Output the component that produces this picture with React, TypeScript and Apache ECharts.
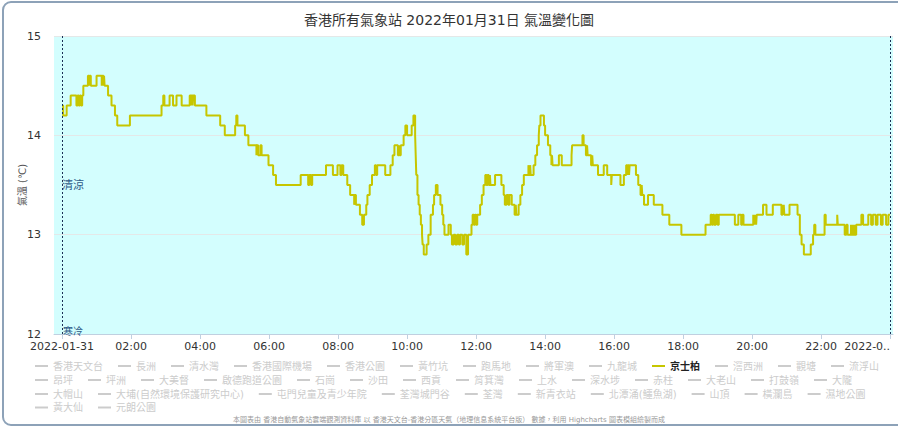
import React, { useEffect, useRef } from "react";
import * as echarts from "echarts";

const chartTitle = "香港所有氣象站 2022年01月31日 氣溫變化圖";
const yAxisTitle = "氣溫 (℃)";
const activeStation = "京士柏";

const legendRow1 = ["香港天文台", "長洲", "清水灣", "香港國際機場", "香港公園", "黃竹坑", "跑馬地", "將軍澳", "九龍城", "京士柏", "滘西洲", "觀塘", "流浮山"];
const legendRow2 = ["昂坪", "坪洲", "大美督", "啟德跑道公園", "石崗", "沙田", "西貢", "筲箕灣", "上水", "深水埗", "赤柱", "大老山", "打鼓嶺", "大隴"];
const legendRow3 = ["大帽山", "大埔(自然環境保護研究中心)", "屯門兒童及青少年院", "荃灣城門谷", "荃灣", "新青衣站", "北潭涌(鱷魚湖)", "山頂", "橫瀾島", "濕地公園"];
const legendRow4 = ["黃大仙", "元朗公園"];

const tickMinutes = [0, 120, 240, 360, 480, 600, 720, 840, 960, 1080, 1200, 1320, 1440];
const tickLabels = ["2022-01-31", "02:00", "04:00", "06:00", "08:00", "10:00", "12:00", "14:00", "16:00", "18:00", "20:00", "22:00", "2022-0.."];

// 京士柏: minute of day at which the reading changes, and the new reading (°C)
const kpMinutes = [
  0, 2, 8, 15, 25, 27, 29, 31, 33, 35, 37, 45, 47, 48, 50, 60, 69, 70, 72, 73, 74, 80, 86, 92, 96, 118,
  173, 176, 178, 187, 193, 199, 208, 222, 224, 225, 227, 228, 231, 251, 275, 283, 301, 303, 305, 318, 324,
  338, 339, 341, 345, 347, 359, 367, 372, 415, 428, 430, 433, 435, 459, 471, 479, 484, 486, 489, 496, 501,
  508, 509, 511, 518, 522, 525, 529, 531, 535, 539, 544, 546, 548, 562, 571, 575, 578, 584, 586, 587, 589,
  594, 597, 600, 608, 611, 614, 615, 616, 618, 620, 622, 624, 626, 627, 629, 634, 637, 641, 645, 647, 650,
  653, 658, 661, 663, 665, 672, 676, 678, 681, 684, 687, 690, 692, 696, 699, 703, 706, 712, 714, 716, 718,
  720, 722, 727, 730, 733, 736, 738, 740, 742, 744, 745, 753, 764, 768, 770, 773, 776, 778, 782, 787, 789,
  790, 794, 797, 800, 803, 811, 812, 814, 815, 820, 823, 826, 829, 830, 832, 838, 840, 845, 849, 851, 852,
  853, 864, 869, 886, 887, 905, 907, 911, 913, 914, 920, 922, 923, 932, 942, 948, 955, 956, 971, 977, 981,
  983, 984, 986, 987, 998, 1002, 1006, 1008, 1009, 1012, 1019, 1029, 1044, 1056, 1077, 1119, 1128, 1130,
  1132, 1134, 1137, 1140, 1142, 1170, 1176, 1181, 1183, 1185, 1202, 1203, 1204, 1205, 1206, 1207, 1208,
  1219, 1225, 1236, 1251, 1253, 1254, 1255, 1256, 1265, 1279, 1283, 1286, 1290, 1302, 1306, 1308, 1310,
  1326, 1328, 1348, 1349, 1361, 1364, 1366, 1372, 1373, 1375, 1376, 1378, 1379, 1381, 1390, 1393, 1402,
  1407, 1410, 1415, 1418, 1424, 1427, 1433, 1437, 1440,
];
const kpTemps = [
  14.3, 14.2, 14.3, 14.4, 14.3, 14.4, 14.3, 14.4, 14.3, 14.4, 14.5, 14.6, 14.5, 14.6, 14.5, 14.6, 14.5, 14.6, 14.5, 14.6, 14.5, 14.4, 14.3, 14.2, 14.1, 14.2,
  14.3, 14.4, 14.3, 14.4, 14.3, 14.4, 14.3, 14.4, 14.3, 14.4, 14.3, 14.4, 14.3, 14.2, 14.1, 14.0, 14.1, 14.2, 14.1, 14.0, 13.9,
  13.8, 13.9, 13.8, 13.9, 13.8, 13.7, 13.6, 13.5, 13.6, 13.5, 13.6, 13.5, 13.6, 13.7, 13.6, 13.7, 13.6, 13.7, 13.6, 13.5, 13.4,
  13.3, 13.4, 13.3, 13.2, 13.1, 13.2, 13.3, 13.4, 13.5, 13.6, 13.7, 13.6, 13.7, 13.6, 13.7, 13.8, 13.9, 13.8, 13.9, 13.8, 13.9,
  14.0, 14.1, 14.0, 14.1, 14.2, 14.0, 13.8, 13.6, 13.4, 13.3, 13.2, 13.1, 13.0, 12.9, 12.8, 12.9, 13.0, 13.2, 13.3, 13.4, 13.5,
  13.4, 13.3, 13.2, 13.1, 13.0, 13.1, 13.0, 12.9, 13.0, 12.9, 13.0, 12.9, 13.0, 12.9, 13.0, 12.8, 13.0, 13.1, 13.2, 13.1, 13.2,
  13.1, 13.2, 13.3, 13.4, 13.5, 13.6, 13.5, 13.6, 13.5, 13.6, 13.5, 13.6, 13.5, 13.4, 13.3, 13.4, 13.3, 13.4, 13.3, 13.2, 13.3,
  13.2, 13.3, 13.4, 13.5, 13.6, 13.7, 13.6, 13.7, 13.6, 13.7, 13.8, 13.9, 14.0, 14.1, 14.2, 14.1, 14.0, 13.9, 13.8, 13.7, 13.8,
  13.7, 13.8, 13.7, 13.8, 13.9, 14.0, 13.9, 13.8, 13.9, 13.8, 13.7, 13.8, 13.7, 13.6, 13.7, 13.6, 13.5, 13.6, 13.5, 13.6, 13.7,
  13.6, 13.7, 13.6, 13.7, 13.6, 13.5, 13.4, 13.5, 13.4, 13.3, 13.4, 13.3, 13.2, 13.1, 13.0, 13.1, 13.2, 13.1,
  13.2, 13.1, 13.2, 13.1, 13.2, 13.1, 13.2, 13.1, 13.2, 13.1, 13.2, 13.1, 13.2, 13.1, 13.2, 13.1, 13.2,
  13.3, 13.2, 13.3, 13.2, 13.3, 13.2, 13.3, 13.2, 13.3, 13.2, 13.0, 12.9, 12.8, 12.9, 13.0, 13.1, 13.0,
  13.2, 13.1, 13.2, 13.1, 13.0, 13.1, 13.0, 13.1, 13.0, 13.1, 13.0, 13.1, 13.0, 13.1, 13.2, 13.1, 13.2,
  13.1, 13.2, 13.1, 13.2, 13.1, 13.2, 13.1, 13.2, 13.2,
];

const bandCoolLabel = "清涼";
const bandColdLabel = "寒冷";
const creditText = "本圖表由 香港自動氣象站雲端觀測資料庫 以 香港天文台-香港分區天氣（地理信息系統平台版） 數據，利用 Highcharts 圖表模組繪製而成";

const FONT = "'DejaVu Sans', 'Noto Sans CJK TC', sans-serif";
const LINE_COLOR = "#c6c600";

export default function App() {
  const ref = useRef<HTMLDivElement>(null);

  useEffect(() => {
    if (!ref.current) return;
    const chart = echarts.init(ref.current, null, { renderer: "svg" });

    const kpData = kpMinutes.map((m, i) => [m, kpTemps[i]]);
    const rows = [legendRow1, legendRow2, legendRow3, legendRow4];
    const allStations = rows.flat();
    const rowCenters = [366, 380, 394, 407.5];

    const legends = rows.map((row, ri) => {
      const selected: Record<string, boolean> = {};
      row.forEach((n) => (selected[n] = n === activeStation));
      return {
        type: "plain",
        orient: "horizontal",
        left: 35,
        top: rowCenters[ri] - 6,
        icon: "rect",
        itemWidth: 13,
        itemHeight: 2,
        itemGap: 15,
        padding: 0,
        inactiveColor: "#cccccc",
        selected,
        textStyle: { fontSize: 10, lineHeight: 12, color: "#333", fontFamily: FONT },
        data: row.map((n) =>
          n === activeStation ? { name: n, textStyle: { fontWeight: "bold", color: "#222" } } : { name: n }
        ),
      };
    });

    const series: any[] = allStations.map((name) => {
      const active = name === activeStation;
      const s: any = {
        name,
        type: "line",
        step: "end",
        symbol: "none",
        data: active ? kpData : [],
        color: active ? LINE_COLOR : "#999",
        lineStyle: { width: 2, color: active ? LINE_COLOR : "#999" },
        emphasis: { disabled: true },
      };
      if (active) {
        s.markArea = {
          silent: true,
          z: -1,
          itemStyle: { color: "#d3fefe" },
          label: {
            show: true,
            position: "insideLeft",
            offset: [3, 0],
            color: "#2e5a87",
            fontSize: 11,
            fontFamily: FONT,
          },
          data: [[{ name: bandCoolLabel, xAxis: -14, yAxis: 12 }, { xAxis: 1445, yAxis: 15 }]],
        };
        s.markLine = {
          silent: true,
          symbol: ["none", "none"],
          label: { show: false },
          lineStyle: { color: "#1b2f55", width: 1, type: [2, 2] },
          data: [{ xAxis: 0 }, { xAxis: 1440 }],
        };
      }
      return s;
    });

    chart.setOption({
      animation: false,
      backgroundColor: "#ffffff",
      textStyle: { fontFamily: FONT },
      title: {
        text: chartTitle,
        left: "center",
        top: 8,
        textStyle: { fontSize: 14, fontWeight: "normal", color: "#333", fontFamily: FONT },
      },
      grid: { left: 54, right: 5, top: 36, bottom: 93, containLabel: false },
      legend: legends,
      xAxis: {
        type: "value",
        min: -14,
        max: 1445,
        axisLine: { show: true, lineStyle: { color: "#c0d0e0" } },
        axisTick: { show: true, length: 5, lineStyle: { color: "#c0d0e0" }, customValues: tickMinutes },
        axisLabel: {
          customValues: tickMinutes,
          formatter: (v: number) => tickLabels[Math.round(v / 120)] ?? "",
          color: "#333",
          fontSize: 11,
          margin: 7,
          fontFamily: FONT,
          alignMaxLabel: "right",
        },
        splitLine: { show: false },
      },
      yAxis: {
        type: "value",
        min: 12,
        max: 15,
        interval: 1,
        name: yAxisTitle,
        nameLocation: "middle",
        nameGap: 27,
        nameMoveOverlap: false,
        nameRotate: 90,
        nameTextStyle: { fontSize: 10, color: "#555", fontFamily: FONT },
        axisLine: { show: false },
        axisTick: { show: false },
        axisLabel: { color: "#333", fontSize: 11, margin: 13, fontFamily: FONT },
        splitLine: { show: true, lineStyle: { color: "#e4e8e8" } },
      },
      graphic: [
        {
          type: "rect",
          silent: true,
          shape: { x: 3, y: 2, width: 905, height: 423, r: 8 },
          style: { fill: "none", stroke: "#8da2b8", lineWidth: 2 },
          z: 100,
        },
        {
          type: "text",
          silent: true,
          x: 63,
          y: 326,
          style: { text: bandColdLabel, fill: "#2e5a87", fontSize: 10, fontFamily: FONT },
          z: 50,
        },
        {
          type: "text",
          silent: true,
          left: "center",
          top: 416,
          style: { text: creditText, fill: "#999", fontSize: 7, fontFamily: FONT },
        },
      ],
      series,
    });

    return () => chart.dispose();
  }, []);

  return (
    <div
      ref={ref}
      style={{ position: "fixed", left: 0, top: 0, width: 898, height: 427, background: "#fff" }}
    />
  );
}
